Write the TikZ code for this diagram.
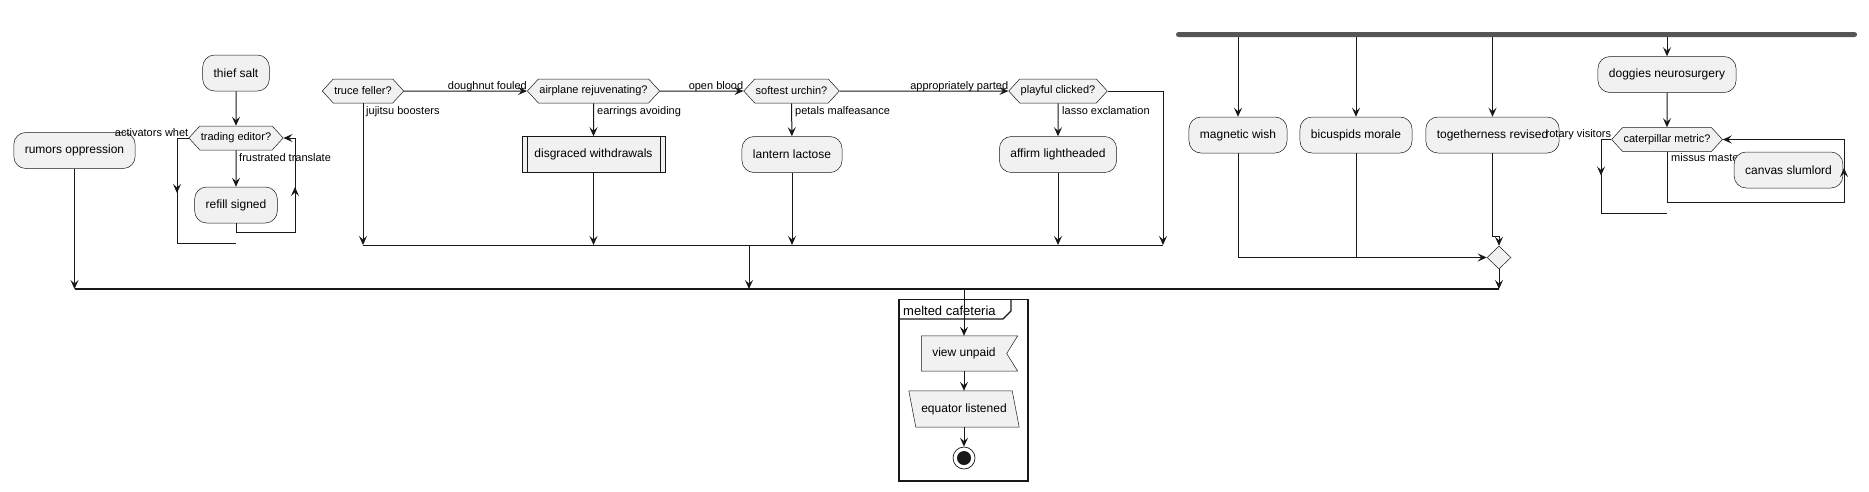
\documentclass[tikz,border=0pt]{standalone}
\usepackage{fontspec}
\setmainfont{Liberation Sans}
\usetikzlibrary{arrows.meta,positioning,shapes.symbols,shapes.geometric,backgrounds}
\definecolor{ink}{HTML}{181818}
\definecolor{actfill}{HTML}{F1F1F1}
\definecolor{barclr}{HTML}{555555}
\tikzset{
  act/.style={draw=ink, line width=0.5pt, fill=actfill, rounded corners=12pt, minimum height=36pt, inner xsep=11pt, font=\fontsize{12}{14}\selectfont},
  cond/.style={signal, signal to=east and west, signal pointer angle=95, draw=ink, line width=0.5pt, fill=actfill, minimum height=24pt, inner xsep=1pt, inner ysep=0pt, font=\fontsize{11}{13}\selectfont},
  lbl/.style={inner sep=0pt, font=\fontsize{11}{13}\selectfont},
  flow/.style={draw=ink, line width=1pt, -{Stealth[length=9pt,width=8pt,inset=3.5pt]}},
  wire/.style={draw=ink, line width=1pt},
}

\begin{document}
\begin{tikzpicture}[x=1pt,y=-1pt]
    \useasboundingbox (0,0) rectangle (1869,491);

    \node[act] (rumors) at (74.5,150.5) {rumors oppression};
    \node[act] (thief) at (236,73) {thief salt};
    \node[cond] (trading) at (236,138) {trading editor?};
    \node[act] (refill) at (236,205) {refill signed};
    \draw[flow] (thief) -- (trading);
    \draw[flow] (trading) -- (refill);
    \node[lbl, anchor=base west] at ([xshift=3pt,yshift=-11pt]trading.south) {frustrated translate};
    \node[lbl, anchor=base east] at ([yshift=2pt]trading.west) {activators whet};
    \coordinate (thiefloop) at (295,232);
    \draw[flow] (refill) |- (thiefloop) |- (trading.east);
    \draw[flow] (thiefloop) -- ++(0,-45);
    \coordinate (thiefcorner) at (177,243);
    \coordinate (thiefend) at (236,243);
    \draw[wire] (trading.west) -| (thiefcorner) -- (thiefend);
    \draw[flow] (trading.west -| thiefcorner) -- ++(0,55);

    \node[cond] (truce) at (363,91) {truce feller?};
    \node[cond] (airplane) at (593.5,91) {airplane rejuvenating?};
    \node[cond] (softest) at (791.5,91) {softest urchin?};
    \node[cond] (playful) at (1058,91) {playful clicked?};
    \node[act, rounded corners=0pt, minimum width=143pt] (disgraced) at (593.5,154.5) {disgraced withdrawals};
    \draw[ink, line width=0.5pt] ([xshift=5pt]disgraced.north west) -- ([xshift=5pt]disgraced.south west);
    \draw[ink, line width=0.5pt] ([xshift=-5pt]disgraced.north east) -- ([xshift=-5pt]disgraced.south east);
    \node[act] (lantern) at (792,154.5) {lantern lactose};
    \node[act] (affirm) at (1058,154.5) {affirm lightheaded};

    \draw[flow] (truce) -- (airplane);
    \node[lbl, anchor=base east] at ([yshift=2pt]airplane.west) {doughnut fouled};
    \draw[flow] (airplane) -- (softest);
    \node[lbl, anchor=base east] at ([yshift=2pt]softest.west) {open blood};
    \draw[flow] (softest) -- (playful);
    \node[lbl, anchor=base east] at ([yshift=2pt]playful.west) {appropriately parted};

    \draw[flow] (airplane) -- (disgraced);
    \node[lbl, anchor=base west] at ([xshift=3.5pt,yshift=-11pt]airplane.south) {earrings avoiding};
    \draw[flow] (softest) -- (lantern);
    \node[lbl, anchor=base west] at ([xshift=3.5pt,yshift=-11pt]softest.south) {petals malfeasance};
    \draw[flow] (playful) -- (affirm);
    \node[lbl, anchor=base west] at ([xshift=4pt,yshift=-11pt]playful.south) {lasso exclamation};

    \coordinate (m1w) at (363,245);
    \coordinate (m1c) at (749,245);
    \coordinate (m1e) at (1163,245);
    \draw[wire] (m1w) -- (m1e);
    \draw[flow] (truce) -- (m1w);
    \node[lbl, anchor=base west] at ([xshift=3pt,yshift=-11pt]truce.south) {jujitsu boosters};
    \draw[flow] (disgraced) -- (disgraced |- m1w);
    \draw[flow] (lantern) -- (lantern |- m1w);
    \draw[flow] (affirm) -- (affirm |- m1w);
    \draw[flow] (playful) -| (m1e);

    \node[fill=barclr, rounded corners=2.5pt, minimum width=681pt, minimum height=5pt, inner sep=0pt] (fork) at (1516.5,34.5) {};
    \node[act] (magnetic) at (1238,135) {magnetic wish};
    \node[act] (bicuspids) at (1356,135) {bicuspids morale};
    \node[act] (together) at (1492.5,135) {togetherness revised};
    \node[act] (doggies) at (1667,74.5) {doggies neurosurgery};
    \node[cond] (caterpillar) at (1667,139.5) {caterpillar metric?};
    \node[diamond, draw=ink, line width=0.5pt, fill=actfill, minimum width=24pt, minimum height=23pt, inner sep=0pt] (join) at (1499,257.5) {};

    \draw[flow] (fork.south -| magnetic) -- (magnetic);
    \draw[flow] (fork.south -| bicuspids) -- (bicuspids);
    \draw[flow] (fork.south -| together) -- (together);
    \draw[flow] (fork.south -| doggies) -- (doggies);
    \draw[flow] (doggies) -- (caterpillar);

    \draw[flow] (magnetic) |- (join);
    \draw[wire] (bicuspids) -- (bicuspids |- join);
    \coordinate (tjog) at (1499,236);
    \draw[flow] (together) |- (tjog) -- (join);

    \node[lbl, anchor=base east] at ([yshift=2pt]caterpillar.west) {rotary visitors};
    \coordinate (catcorner) at (1601,213);
    \coordinate (catend) at (1667,213);
    \draw[wire] (caterpillar.west) -| (catcorner) -- (catend);
    \draw[flow] (caterpillar.west -| catcorner) -- ++(0,36);
    \node[lbl, anchor=base west] at ([xshift=4pt,yshift=-10pt]caterpillar.south) {missus master};
    \node[act] (canvas) at (1788.5,170) {canvas slumlord};
    \coordinate (catloop) at (1844,202);
    \draw[flow] (caterpillar) |- (catloop) |- (caterpillar.east);
    \draw[flow] (catloop) -- ++(0,-34);

    \coordinate (m2w) at (74.5,289);
    \coordinate (m2e) at (1499,289);
    \draw[wire, line width=1.3pt] (m2w) -- (m2e);
    \draw[flow] (rumors) -- (m2w);
    \draw[flow] (m1c) -- (m1c |- m2w);
    \draw[flow] (join) -- (m2e);

    \draw[ink, line width=1.5pt] (899,299.5) rectangle (1028,481);
    \draw[ink, line width=1.2pt] (899,319) -- (1003,319) -- (1011,311) -- (1011,299.5);
    \node[anchor=base west, inner sep=0pt, font=\fontsize{13}{15}\selectfont] (frtitle) at (903,315.5) {melted cafeteria};

    \node[minimum width=85pt, minimum height=35pt, inner sep=0pt, font=\fontsize{12}{14}\selectfont] (view) at (964,353.5) {view unpaid};
    \node[minimum width=103pt, minimum height=36pt, inner sep=0pt, font=\fontsize{12}{14}\selectfont] (equator) at (964,409) {equator listened};
    \node[circle, draw=ink, line width=0.7pt, fill=white, minimum size=22pt, inner sep=0pt] (stop) at (964,458) {};
    \fill[ink] (stop.center) circle (7pt);
    \begin{scope}[on background layer]
      \draw[ink, line width=0.5pt, fill=actfill] (view.north west) -- ([xshift=11pt]view.north east) -- (view.east) -- ([xshift=11pt]view.south east) -- (view.south west) -- cycle;
      \draw[ink, line width=0.5pt, fill=actfill] ([xshift=-3.5pt]equator.north west) -- ([xshift=-3.5pt]equator.north east) -- ([xshift=3.5pt]equator.south east) -- ([xshift=3.5pt]equator.south west) -- cycle;
    \end{scope}
    \draw[flow] (view |- m2w) -- (view);
    \draw[flow] (view) -- (equator);
    \draw[flow] (equator) -- (stop);
\end{tikzpicture}
\end{document}
